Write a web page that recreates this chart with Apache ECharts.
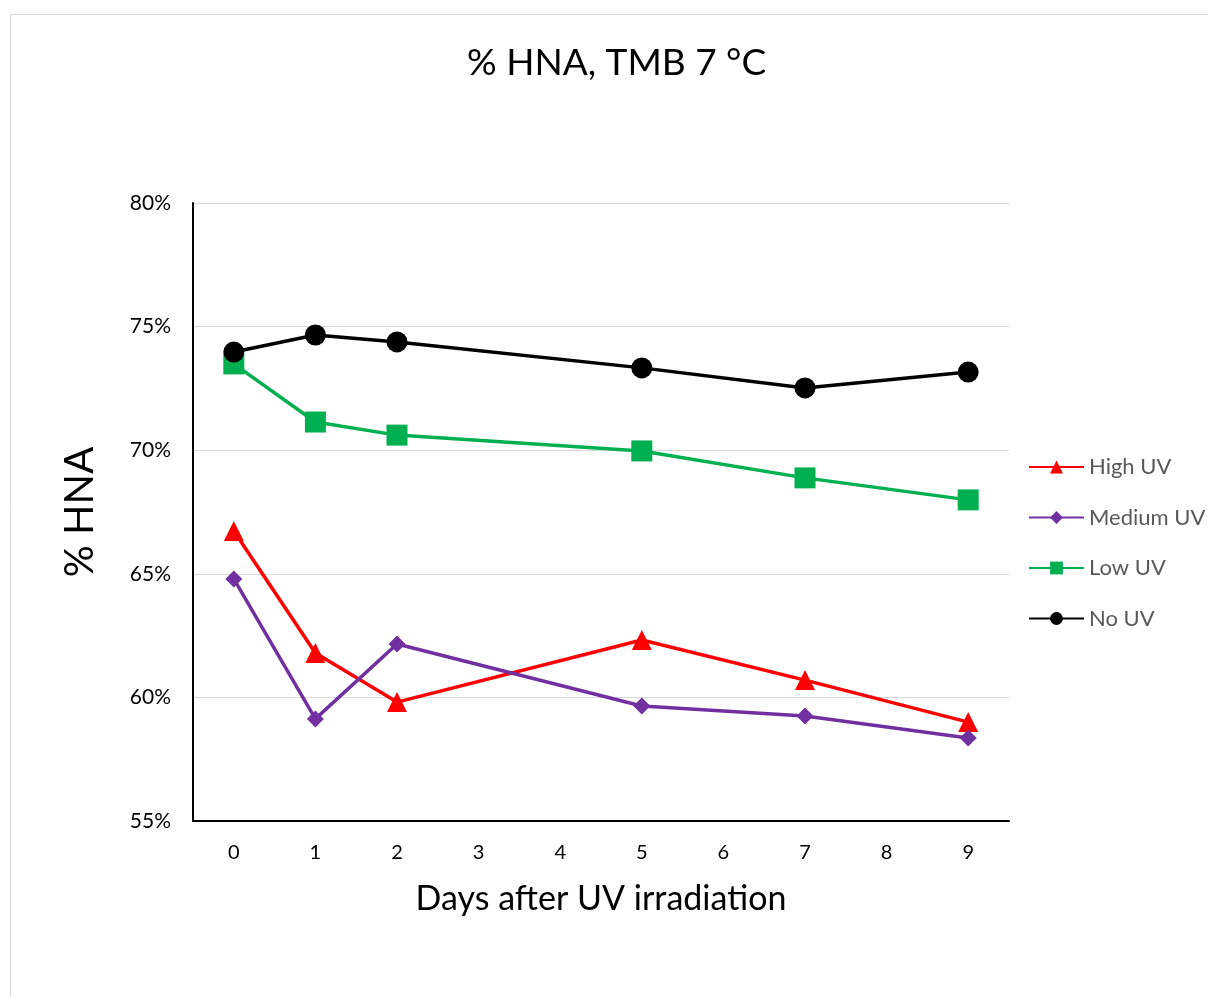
<!DOCTYPE html>
<html>
<head>
<meta charset="utf-8">
<script src="https://cdn.jsdelivr.net/npm/echarts@6/dist/echarts.min.js"></script>
<style>
html,body{margin:0;padding:0;background:#fff;}
#c{width:1208px;height:997px;}
</style>
</head>
<body>
<div id="c"></div>
<script>
const days = ['0','1','2','3','4','5','6','7','8','9'];
const yTicks = [55, 60, 65, 70, 75, 80];
const highUV   = [66.73, 61.80, 59.81, null, null, 62.32, null, 60.70, null, 59.00];
const mediumUV = [64.79, 59.13, 62.16, null, null, 59.65, null, 59.25, null, 58.36];
const lowUV    = [73.49, 71.14, 70.61, null, null, 69.97, null, 68.88, null, 67.99];
const noUV     = [73.97, 74.66, 74.38, null, null, 73.33, null, 72.52, null, 73.16];

const FONT = 'Lato';
function mk(name, data, color, symbol, size) {
  return {
    name, type: 'line', data, connectNulls: true,
    symbol, symbolSize: size,
    lineStyle: {color, width: 3.5},
    itemStyle: {color},
    emphasis: {disabled: true},
    z: 3
  };
}
const chart = echarts.init(document.getElementById('c'), null, {renderer: 'canvas'});
chart.setOption({
  animation: false,
  backgroundColor: '#fff',
  textStyle: {fontFamily: FONT},
  graphic: [{
    type: 'rect', shape: {x: 10.5, y: 14.5, width: 1400, height: 1200},
    style: {fill: 'none', stroke: '#d9d9d9', lineWidth: 1}, silent: true
  }],
  title: {
    text: '% HNA, TMB 7 °C', left: 462, top: 40,
    textStyle: {fontFamily: FONT, fontSize: 37, fontWeight: 'normal', color: '#000'}
  },
  legend: {
    orient: 'vertical', left: 1023, top: 451,
    itemWidth: 55, itemHeight: 16, itemGap: 28.5,
    textStyle: {fontFamily: FONT, fontSize: 22, color: '#595959', lineHeight: 22},
    data: ['High UV', 'Medium UV', 'Low UV', 'No UV']
  },
  grid: {left: 193, right: 199, top: 203, bottom: 176, containLabel: false},
  xAxis: {
    type: 'category', data: days, boundaryGap: true,
    name: 'Days after UV irradiation', nameLocation: 'middle', nameGap: 61,
    nameTextStyle: {fontFamily: FONT, fontSize: 34, color: '#000'},
    axisLine: {lineStyle: {color: '#000', width: 2}},
    axisTick: {show: false},
    axisLabel: {fontFamily: FONT, fontSize: 20, color: '#000', margin: 22}
  },
  yAxis: {
    type: 'value', min: 55, max: 80, interval: 5,
    name: '% HNA', nameLocation: 'middle', nameGap: 93,
    nameTextStyle: {fontFamily: FONT, fontSize: 40, color: '#000'},
    axisLine: {show: true, lineStyle: {color: '#000', width: 2}},
    axisTick: {show: false},
    splitLine: {lineStyle: {color: '#d9d9d9', width: 1}},
    axisLabel: {fontFamily: FONT, fontSize: 21, color: '#000', margin: 22,
      formatter: v => yTicks.includes(v) ? v + '%' : ''}
  },
  series: [
    mk('High UV', highUV, '#ff0000', 'triangle', 20),
    mk('Medium UV', mediumUV, '#7030a0', 'diamond', 17),
    mk('Low UV', lowUV, '#00b050', 'rect', 21),
    mk('No UV', noUV, '#000000', 'circle', 21)
  ]
});
</script>
</body>
</html>
